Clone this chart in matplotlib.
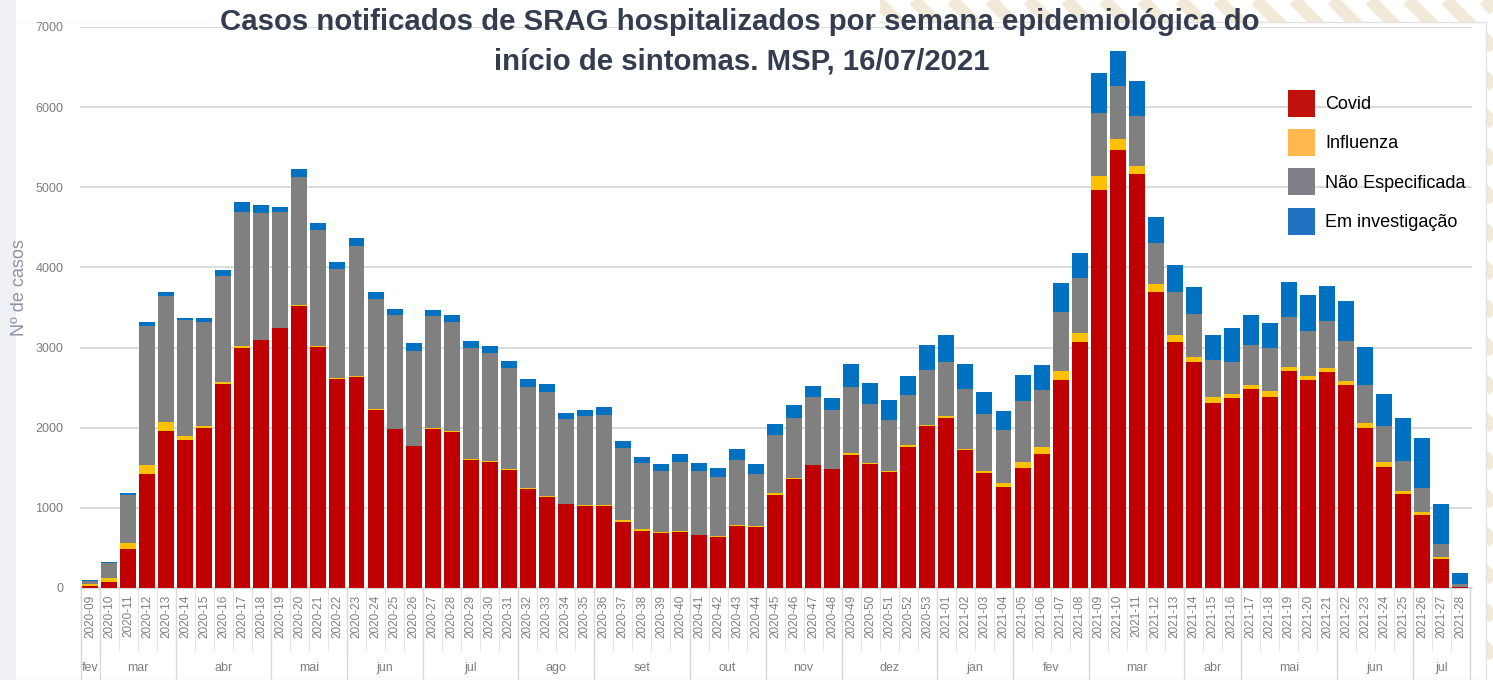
import matplotlib
matplotlib.use('Agg')
import matplotlib.pyplot as plt
import numpy as np
from matplotlib.patches import Patch, Rectangle

plt.rcParams['font.family'] = ['Liberation Sans', 'DejaVu Sans']

weeks = [f'2020-{w:02d}' for w in range(9, 54)] + [f'2021-{w:02d}' for w in range(1, 29)]

covid = [20, 80, 490, 1420, 1965, 1850, 1995, 2540, 3000, 3090,
         3240, 3520, 3010, 2610, 2630, 2220, 1980, 1770, 1985, 1950,
         1600, 1570, 1475, 1240, 1135, 1045, 1025, 1025, 825, 710,
         690, 700, 660, 640, 775, 765, 1160, 1365, 1530, 1480,
         1665, 1550, 1445, 1765, 2025, 2120, 1725, 1440, 1255, 1495,
         1675, 2595, 3065, 4965, 5465, 5160, 3695, 3065, 2820, 2305,
         2365, 2485, 2380, 2705, 2600, 2695, 2535, 1995, 1505, 1175,
         905, 360, 10]
influenza = [30, 40, 75, 120, 110, 50, 30, 30, 15, 10,
             10, 15, 10, 10, 10, 10, 10, 8, 10, 12,
             10, 10, 8, 8, 8, 5, 5, 5, 20, 20,
             10, 5, 5, 5, 5, 5, 20, 10, 10, 10,
             15, 10, 12, 15, 15, 20, 15, 25, 50, 75,
             90, 115, 120, 175, 135, 105, 100, 90, 65, 75,
             55, 45, 80, 55, 45, 50, 45, 60, 65, 40,
             40, 30, 5]
nao_especificada = [40, 190, 600, 1730, 1565, 1450, 1290, 1320, 1680, 1575,
                    1440, 1590, 1450, 1365, 1625, 1370, 1420, 1180, 1395, 1355,
                    1380, 1355, 1265, 1260, 1300, 1060, 1120, 1125, 900, 830,
                    755, 865, 800, 745, 820, 655, 730, 745, 840, 725,
                    830, 740, 635, 630, 675, 675, 745, 710, 665, 760,
                    710, 740, 685, 785, 670, 625, 515, 540, 540, 460,
                    405, 500, 540, 625, 565, 585, 500, 480, 450, 365,
                    305, 160, 35]
em_investigacao = [10, 10, 15, 55, 50, 25, 55, 75, 120, 100,
                   65, 100, 80, 80, 100, 90, 70, 95, 75, 85,
                   90, 85, 90, 105, 107, 75, 75, 100, 85, 70,
                   90, 105, 100, 105, 140, 120, 135, 165, 145, 160,
                   290, 260, 260, 240, 315, 340, 305, 270, 240, 325,
                   310, 360, 315, 500, 425, 440, 320, 335, 330, 315,
                   415, 375, 305, 430, 440, 440, 505, 470, 405, 540,
                   625, 500, 135]

months = ['fev', 'mar', 'abr', 'mai', 'jun', 'jul', 'ago', 'set', 'out', 'nov', 'dez',
          'jan', 'fev', 'mar', 'abr', 'mai', 'jun', 'jul']
month_sizes = [1, 4, 5, 4, 4, 5, 4, 5, 4, 4, 5, 4, 4, 5, 3, 5, 4, 3]

series = [
    ('Covid', covid, '#C00000', '#C0120C'),
    ('Influenza', influenza, '#FFC000', '#FFB84D'),
    ('Não Especificada', nao_especificada, '#808080', '#7F8088'),
    ('Em investigação', em_investigacao, '#0070C0', '#1F72C0'),
]

W, H = 1493, 680
fig = plt.figure(figsize=(W / 100, H / 100), dpi=100)

# background: beige stripes, white panel, grey left strip
bg = fig.add_axes([0, 0, 1, 1], zorder=0)
bg.set_xlim(0, W)
bg.set_ylim(H, 0)
bg.axis('off')
for x0 in range(-720, W + 40, 38):
    bg.plot([x0, x0 + 720], [0, 720], color='#F2EAD8', lw=9, solid_capstyle='butt', zorder=1)
bg.add_patch(Rectangle((0, 22), 1486, H - 22, facecolor='white', edgecolor='#E2E2E2', lw=1, zorder=3))
bg.add_patch(Rectangle((0, 0), 880, 23, facecolor='white', edgecolor='none', zorder=3))
bg.add_patch(Rectangle((0, 0), 16, H, facecolor='#EEF0F4', edgecolor='none', zorder=4))

ax = fig.add_axes([80 / W, 92 / H, 1392 / W, 561 / H], zorder=1)
ax.patch.set_alpha(0)

x = np.arange(len(weeks))
bottom = np.zeros(len(weeks))
for name, values, color, _ in series:
    vals = np.array(values, dtype=float)
    ax.bar(x, vals, width=0.84, bottom=bottom, color=color, linewidth=0)
    bottom += vals

ax.set_xlim(-0.53, 72.62)
ax.set_ylim(0, 7000)
ax.set_yticks(range(0, 7001, 1000))
ax.yaxis.grid(True, color='#D9D9D9', lw=1.3)
ax.set_axisbelow(True)
for side in ['top', 'right', 'left']:
    ax.spines[side].set_visible(False)
ax.spines['bottom'].set_color('#D9D9D9')
ax.tick_params(axis='y', length=0, pad=12, labelsize=9, labelcolor='#7F7F7F')
ax.set_xticks(x)
ax.set_xticklabels(weeks, rotation=90, fontsize=8.5, color='#7F7F7F')
ax.tick_params(axis='x', length=0, pad=5)

trans = ax.get_xaxis_transform()
for i in range(len(weeks) + 1):
    ax.plot([i - 0.5, i - 0.5], [0, -0.11], color='#E3E3E3', lw=0.8, transform=trans, clip_on=False)
start = 0
for m, n in zip(months, month_sizes):
    ax.plot([start - 0.5, start - 0.5], [0, -0.17], color='#D9D9D9', lw=1, transform=trans, clip_on=False)
    ax.text(start + (n - 1) / 2, -0.143, m, ha='center', va='center', fontsize=9,
            color='#7F7F7F', transform=trans)
    start += n
ax.plot([start - 0.5, start - 0.5], [0, -0.17], color='#D9D9D9', lw=1, transform=trans, clip_on=False)

fig.text(20 / W, 1 - 288 / H, 'Nº de casos', rotation=90, ha='center', va='center',
         fontsize=13, color='#8C93A3')

title_color = '#333D4F'
fig.text(740 / W, 1 - 22 / H, 'Casos notificados de SRAG hospitalizados por semana epidemiológica do',
         ha='center', va='center', fontsize=21.2, fontweight='bold', color=title_color)
fig.text(742 / W, 1 - 61 / H, 'início de sintomas. MSP, 16/07/2021',
         ha='center', va='center', fontsize=21.2, fontweight='bold', color=title_color)

handles = [Patch(facecolor=lc, edgecolor='none') for _, _, _, lc in series]
labels = [name for name, _, _, _ in series]
ax.legend(handles, labels, loc='upper left', bbox_to_anchor=(1288 / W, 1 - 90 / H),
          bbox_transform=fig.transFigure, frameon=False, fontsize=13,
          handlelength=1.5, handleheight=1.93, handletextpad=0.55, labelspacing=0.67,
          borderpad=0, borderaxespad=0)

fig.savefig('out.png', dpi=100)
